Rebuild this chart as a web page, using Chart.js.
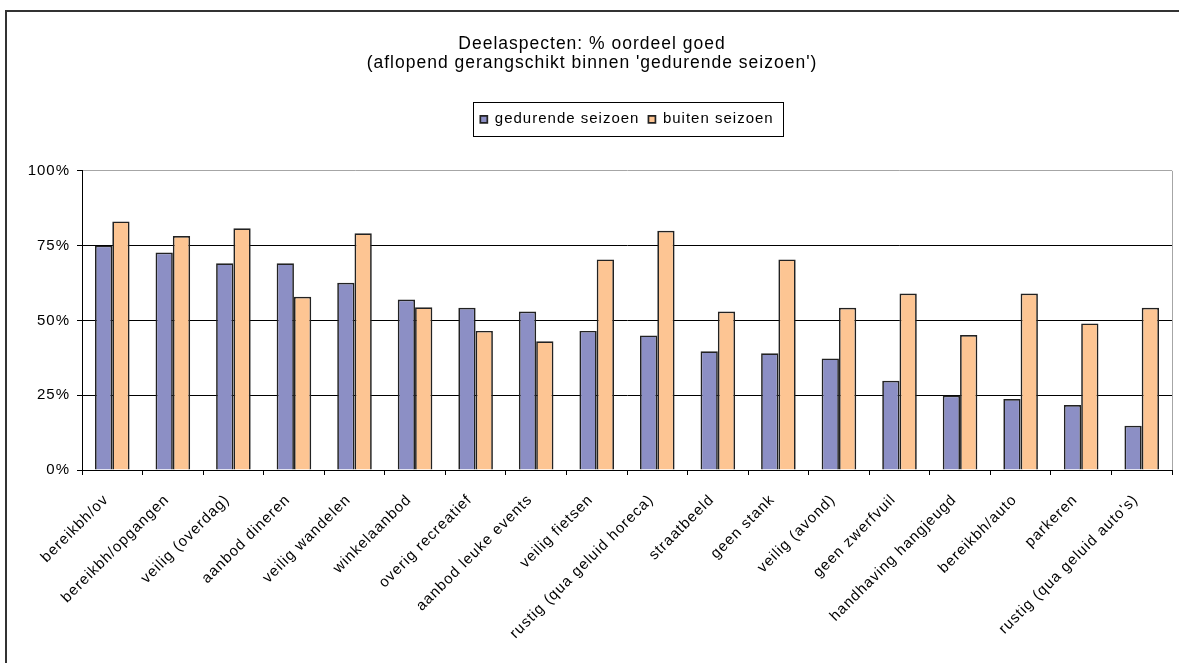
<!DOCTYPE html>
<html>
<head>
<meta charset="utf-8">
<title>Deelaspecten</title>
<script src="https://cdn.jsdelivr.net/npm/chart.js@4.4.1/dist/chart.umd.min.js"></script>
<style>
  html, body { margin: 0; padding: 0; background: #fff; overflow: hidden; }
  #wrap { position: relative; width: 1179px; height: 663px; }
  /* outer frame of the original picture, cut off on the right and bottom */
  #frame { position: absolute; left: 5px; top: 10px; width: 1300px; height: 800px;
           border-left: 2px solid #333; border-top: 2px solid #333; }
  canvas { position: absolute; left: 0; top: 0; }
</style>
</head>
<body>
<div id="wrap">
  <div id="frame"></div>
  <canvas id="deelChart" width="1179" height="663"></canvas>
</div>
<script>
const categories = [
  'bereikbh/ov', 'bereikbh/opgangen', 'veilig (overdag)', 'aanbod dineren',
  'veilig wandelen', 'winkelaanbod', 'overig recreatief', 'aanbod leuke events',
  'veilig fietsen', 'rustig (qua geluid horeca)', 'straatbeeld', 'geen stank',
  'veilig (avond)', 'geen zwerfvuil', 'handhaving hangjeugd', 'bereikbh/auto',
  'parkeren', "rustig (qua geluid auto's)"
];
const gedurendeSeizoen = [75.0, 72.7, 69.1, 69.1, 62.6, 57.0, 54.2, 53.0, 46.5, 45.0, 39.7, 39.0, 37.3, 29.8, 24.9, 23.7, 21.7, 14.8];
const buitenSeizoen    = [83.1, 78.2, 80.8, 57.9, 79.1, 54.4, 46.5, 43.0, 70.4, 80.0, 53.0, 70.4, 54.2, 59.0, 45.1, 59.0, 49.0, 54.2];
const yTicks = [0, 25, 50, 75, 100];
const titleLines = ['Deelaspecten: % oordeel goed', "(aflopend gerangschikt binnen 'gedurende seizoen')"];

const SPACING = '1px'; // excel spreads its letters a bit

Chart.defaults.font.family = '"Liberation Sans", Arial, sans-serif';
Chart.defaults.color = '#000';

// gray plot frame, boxed legend, fixed legend block height
const excelLook = {
  id: 'excelLook',
  afterInit(chart) {
    const legend = chart.legend;
    const fit = legend.fit;
    legend.fit = function () {
      fit.call(this);
      this.height = 68;
    };
  },
  beforeUpdate(chart) { chart.ctx.letterSpacing = SPACING; },
  beforeDraw(chart) { chart.ctx.letterSpacing = SPACING; },
  beforeDatasetsDraw(chart) {
    const {ctx, chartArea} = chart;
    ctx.save();
    ctx.strokeStyle = '#a6a6a6';
    ctx.lineWidth = 1;
    ctx.beginPath();
    ctx.moveTo(Math.round(chartArea.right) + 0.5, chartArea.top);
    ctx.lineTo(Math.round(chartArea.right) + 0.5, chartArea.bottom);
    ctx.stroke();
    ctx.restore();
  },
  afterDraw(chart) {
    const boxes = chart.legend.legendHitBoxes;
    if (!boxes || !boxes.length) return;
    const left = Math.min(...boxes.map(b => b.left)) - 7;
    const right = Math.max(...boxes.map(b => b.left + b.width)) + 10;
    const mid = boxes[0].top + boxes[0].height / 2;
    const ctx = chart.ctx;
    ctx.save();
    ctx.strokeStyle = '#000';
    ctx.lineWidth = 1;
    ctx.strokeRect(Math.round(left) + 0.5, Math.round(mid - 17) + 0.5, Math.round(right - left), 34);
    ctx.restore();
  }
};

const chart = new Chart(document.getElementById('deelChart'), {
  type: 'bar',
  data: {
    labels: categories,
    datasets: [
      {
        label: 'gedurende seizoen',
        data: gedurendeSeizoen,
        backgroundColor: '#8c8fc5',
        borderColor: '#222',
        borderWidth: 1.7
      },
      {
        label: 'buiten seizoen',
        data: buitenSeizoen,
        backgroundColor: '#fdc593',
        borderColor: '#222',
        borderWidth: 1.7
      }
    ]
  },
  options: {
    responsive: false,
    animation: false,
    layout: { padding: { left: 12, right: 7, top: 12, bottom: 0 } },
    datasets: { bar: { barPercentage: 1, categoryPercentage: 0.571 } },
    plugins: {
      title: {
        display: true,
        text: titleLines,
        font: { size: 17.5, weight: 'normal', lineHeight: 1.11 },
        color: '#000',
        padding: { top: 22, bottom: 30 }
      },
      legend: {
        position: 'top',
        fullSize: false,
        labels: { boxWidth: 7, boxHeight: 7, padding: 9, font: { size: 15 }, color: '#000' }
      },
      tooltip: { enabled: false }
    },
    scales: {
      x: {
        grid: { drawOnChartArea: false, drawTicks: true, tickLength: 5, color: '#000', offset: true },
        border: { color: '#000', width: 1 },
        ticks: { autoSkip: false, minRotation: 45, maxRotation: 45, padding: 16, labelOffset: -6, font: { size: 15 }, color: '#000' },
        afterFit(scale) { scale.height = 193; }
      },
      y: {
        min: 0,
        max: 100,
        afterBuildTicks(scale) { scale.ticks = yTicks.map(v => ({ value: v })); },
        grid: {
          color: ctx => (ctx.tick && ctx.tick.value === 100 ? '#a6a6a6' : '#000'),
          tickColor: '#000',
          tickLength: 5
        },
        border: { color: '#000', width: 1 },
        ticks: { padding: 7, font: { size: 15 }, color: '#000', callback: v => v + '%' },
        afterFit(scale) { scale.width = 70; }
      }
    }
  },
  plugins: [excelLook]
});
</script>
</body>
</html>
